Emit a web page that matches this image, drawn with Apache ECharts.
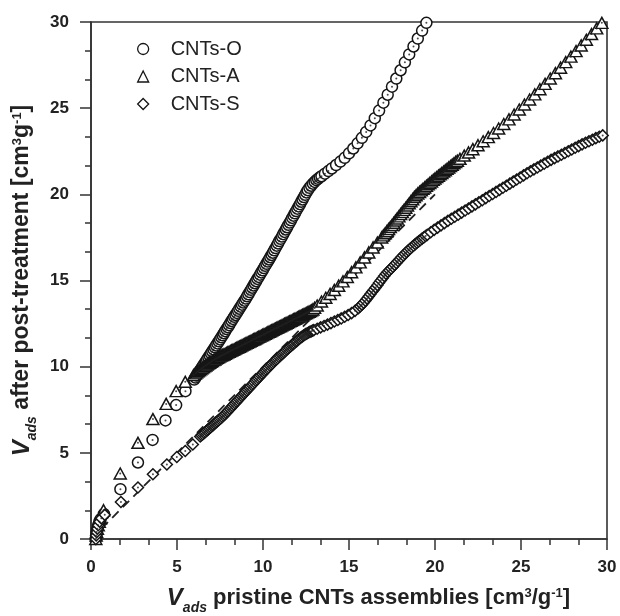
<!DOCTYPE html>
<html>
<head>
<meta charset="utf-8">
<script src="https://cdn.jsdelivr.net/npm/echarts@6/dist/echarts.min.js"></script>
<style>
  html, body { margin: 0; padding: 0; background: #fff; }
  #chart { width: 620px; height: 616px; }
</style>
</head>
<body>
<div id="chart"></div>
<script>
// ---- data ----
const seriesNames = ['CNTs-O', 'CNTs-A', 'CNTs-S'];

const cntsO = [
  [0.28,0],[0.3,0.2],[0.33,0.4],[0.37,0.6],[0.42,0.8],[0.48,1.0],[0.56,1.15],[0.75,1.45],
  [1.71,2.89],[2.73,4.44],[3.58,5.75],[4.33,6.88],[4.95,7.77],[5.49,8.58],[6.0,9.25],
  [6.075,9.37],[6.15,9.49],[6.225,9.6],[6.3,9.72],[6.375,9.84],[6.45,9.95],[6.525,10.07],[6.6,10.19],
  [6.675,10.3],[6.75,10.42],[6.825,10.53],[6.9,10.65],[6.975,10.77],[7.05,10.88],[7.125,11.0],
  [7.2,11.12],[7.275,11.23],[7.35,11.35],[7.425,11.47],[7.5,11.58],[7.575,11.7],[7.65,11.82],
  [7.725,11.94],[7.8,12.06],[7.875,12.18],[7.95,12.29],[8.025,12.41],[8.1,12.53],[8.175,12.65],
  [8.25,12.77],[8.325,12.89],[8.4,13.0],[8.475,13.12],[8.55,13.24],[8.625,13.36],[8.7,13.48],
  [8.775,13.6],[8.85,13.72],[8.925,13.83],[9.0,13.95],[9.075,14.08],[9.15,14.2],[9.225,14.33],
  [9.3,14.46],[9.375,14.58],[9.45,14.71],[9.525,14.84],[9.6,14.96],[9.675,15.09],[9.75,15.21],
  [9.825,15.34],[9.9,15.47],[9.975,15.59],[10.05,15.72],[10.125,15.85],[10.2,15.97],[10.275,16.1],
  [10.35,16.22],[10.425,16.35],[10.5,16.48],[10.575,16.61],[10.65,16.75],[10.725,16.88],[10.8,17.02],
  [10.875,17.15],[10.95,17.29],[11.025,17.42],[11.1,17.55],[11.175,17.69],[11.25,17.82],[11.325,17.96],
  [11.4,18.09],[11.475,18.23],[11.55,18.36],[11.625,18.49],[11.7,18.63],[11.775,18.76],[11.85,18.9],
  [11.925,19.03],[12.0,19.17],[12.075,19.3],[12.15,19.43],[12.225,19.57],[12.3,19.7],[12.375,19.84],
  [12.45,19.97],[12.525,20.11],[12.6,20.24],
  [12.7,20.38],[12.8,20.5],[12.9,20.62],[13.0,20.72],[13.1,20.82],[13.2,20.9],[13.3,20.98],[13.4,21.05],
  [13.6,21.2],[13.8,21.35],[14.0,21.5],
  [14.25,21.7],[14.5,21.9],[14.75,22.12],[15.0,22.38],[15.25,22.66],[15.5,22.96],[15.75,23.28],
  [16.0,23.62],[16.25,24.0],[16.5,24.42],[16.75,24.86],[17.0,25.32],[17.25,25.78],[17.5,26.25],
  [17.75,26.72],[18.0,27.2],[18.25,27.66],[18.5,28.12],[18.75,28.58],[19.0,29.04],[19.25,29.5],[19.5,29.95]
];

const cntsA = [
  [0.28,0],[0.3,0.2],[0.33,0.4],[0.37,0.6],[0.42,0.8],[0.48,1.0],[0.55,1.2],[0.73,1.67],
  [1.7,3.8],[2.73,5.58],[3.6,6.96],[4.37,7.84],[4.95,8.58],[5.48,9.12],[5.96,9.51],
  [6.075,9.61],[6.15,9.67],[6.225,9.73],[6.3,9.79],[6.375,9.85],[6.45,9.91],[6.525,9.96],[6.6,10.02],
  [6.675,10.07],[6.75,10.13],[6.825,10.18],[6.9,10.23],[6.975,10.28],[7.05,10.33],[7.125,10.38],
  [7.2,10.42],[7.275,10.47],[7.35,10.51],[7.425,10.56],[7.5,10.6],[7.575,10.64],[7.65,10.68],
  [7.725,10.71],[7.8,10.75],[7.875,10.79],[7.95,10.83],[8.025,10.86],[8.1,10.9],[8.175,10.94],
  [8.25,10.98],[8.325,11.01],[8.4,11.05],[8.475,11.09],[8.55,11.13],[8.625,11.16],[8.7,11.2],
  [8.775,11.24],[8.85,11.28],[8.925,11.31],[9.0,11.35],[9.075,11.39],[9.15,11.43],[9.225,11.46],
  [9.3,11.5],[9.375,11.54],[9.45,11.58],[9.525,11.61],[9.6,11.65],[9.675,11.69],[9.75,11.73],
  [9.825,11.76],[9.9,11.8],[9.975,11.84],[10.05,11.88],[10.125,11.91],[10.2,11.95],[10.275,11.99],
  [10.35,12.03],[10.425,12.06],[10.5,12.1],[10.575,12.14],[10.65,12.18],[10.725,12.21],[10.8,12.25],
  [10.875,12.29],[10.95,12.33],[11.025,12.36],[11.1,12.4],[11.175,12.44],[11.25,12.48],[11.325,12.51],
  [11.4,12.55],[11.475,12.59],[11.55,12.63],[11.625,12.66],[11.7,12.7],[11.775,12.74],[11.85,12.78],
  [11.925,12.81],[12.0,12.85],[12.075,12.89],[12.15,12.93],[12.225,12.96],[12.3,13.0],[12.375,13.04],
  [12.45,13.08],[12.525,13.11],[12.6,13.15],[12.675,13.19],[12.75,13.23],[12.825,13.27],[12.9,13.32],
  [13.0,13.41],[13.15,13.55],[13.4,13.78],[13.65,14.0],[13.9,14.22],[14.15,14.45],[14.4,14.7],[14.65,14.95],
  [14.9,15.2],[15.15,15.48],[15.4,15.76],[15.65,16.05],[15.9,16.34],[16.15,16.63],[16.4,16.92],
  [16.65,17.2],[16.9,17.5],
  [17.0,17.62],[17.1,17.74],[17.2,17.86],[17.3,17.98],[17.4,18.1],[17.5,18.22],[17.6,18.35],[17.7,18.48],
  [17.8,18.6],[17.9,18.72],[18.0,18.85],[18.1,18.98],[18.2,19.1],[18.3,19.22],[18.4,19.35],[18.5,19.48],
  [18.6,19.6],[18.7,19.72],[18.8,19.85],[18.9,19.95],[19.0,20.05],[19.1,20.14],[19.2,20.23],[19.3,20.32],
  [19.4,20.4],[19.5,20.49],[19.6,20.58],[19.7,20.66],[19.8,20.75],[19.9,20.84],[20.0,20.92],[20.1,21.0],
  [20.2,21.08],[20.3,21.16],[20.4,21.24],[20.5,21.32],[20.6,21.4],[20.7,21.48],[20.8,21.56],[20.9,21.64],
  [21.0,21.72],[21.1,21.8],[21.2,21.88],[21.3,21.95],[21.45,22.06],[21.7,22.25],
  [21.95,22.43],[22.2,22.62],[22.5,22.85],[22.8,23.08],[23.1,23.32],[23.4,23.56],
  [23.7,23.82],[24.0,24.08],[24.3,24.35],[24.6,24.63],[24.9,24.92],[25.2,25.21],[25.5,25.5],
  [25.8,25.8],[26.1,26.1],[26.4,26.41],[26.7,26.72],[27.0,27.03],[27.3,27.35],[27.6,27.67],
  [27.9,27.99],[28.2,28.31],[28.5,28.64],[28.8,28.97],[29.1,29.3],[29.4,29.63],[29.7,29.95]
];

const cntsS = [
  [0.28,0],[0.3,0.2],[0.33,0.4],[0.37,0.6],[0.42,0.8],[0.5,1.0],[0.6,1.2],[0.8,1.4],
  [1.74,2.15],[2.73,2.99],[3.6,3.76],[4.41,4.32],[4.99,4.76],[5.48,5.11],[5.92,5.48],[6.35,5.95],
  [6.425,6.02],[6.5,6.08],[6.575,6.15],[6.65,6.21],[6.725,6.28],[6.8,6.35],[6.875,6.41],[6.95,6.48],
  [7.025,6.55],[7.1,6.61],[7.175,6.68],[7.25,6.75],[7.325,6.81],[7.4,6.88],[7.475,6.95],[7.55,7.01],
  [7.625,7.08],[7.7,7.15],[7.775,7.23],[7.85,7.31],[7.925,7.39],[8.0,7.47],[8.075,7.55],[8.15,7.63],
  [8.225,7.71],[8.3,7.8],[8.375,7.88],[8.45,7.96],[8.525,8.04],[8.6,8.12],[8.675,8.2],[8.75,8.29],
  [8.825,8.37],[8.9,8.45],[8.975,8.53],[9.05,8.61],[9.125,8.69],[9.2,8.77],[9.275,8.85],[9.35,8.93],
  [9.425,9.01],[9.5,9.1],[9.575,9.18],[9.65,9.26],[9.725,9.34],[9.8,9.42],[9.875,9.5],[9.95,9.58],
  [10.025,9.66],[10.1,9.74],[10.175,9.82],[10.25,9.89],[10.325,9.97],[10.4,10.05],[10.475,10.12],
  [10.55,10.2],[10.625,10.27],[10.7,10.35],[10.775,10.42],[10.85,10.49],[10.925,10.56],[11.0,10.63],
  [11.075,10.7],[11.15,10.77],[11.225,10.84],[11.3,10.91],[11.375,10.98],[11.45,11.05],[11.525,11.11],
  [11.6,11.18],[11.675,11.25],[11.75,11.31],[11.825,11.37],[11.9,11.44],[11.975,11.5],[12.05,11.57],
  [12.125,11.63],[12.2,11.69],[12.275,11.74],[12.35,11.8],[12.425,11.85],[12.5,11.9],[12.575,11.94],
  [12.65,11.98],[12.725,12.02],[12.8,12.05],[12.875,12.09],[12.95,12.12],
  [13.15,12.2],[13.35,12.28],[13.55,12.36],[13.75,12.44],[13.95,12.53],[14.15,12.62],[14.35,12.71],
  [14.55,12.8],[14.75,12.9],[14.95,13.0],[15.15,13.11],[15.35,13.24],
  [15.55,13.4],[15.65,13.5],[15.75,13.6],[15.85,13.71],[15.95,13.83],[16.05,13.95],[16.15,14.08],
  [16.25,14.21],[16.35,14.34],[16.45,14.47],[16.55,14.6],[16.65,14.73],[16.75,14.87],[16.85,15.0],
  [16.95,15.13],[17.05,15.26],[17.15,15.39],[17.25,15.5],[17.35,15.6],[17.45,15.7],[17.55,15.8],
  [17.65,15.91],[17.75,16.02],[17.85,16.13],[17.95,16.24],[18.05,16.35],[18.15,16.45],[18.25,16.55],
  [18.35,16.65],[18.45,16.75],[18.55,16.84],[18.65,16.93],[18.75,17.02],[18.85,17.11],[18.95,17.19],
  [19.05,17.27],[19.15,17.35],[19.25,17.43],[19.35,17.5],[19.45,17.58],[19.55,17.65],
  [19.75,17.8],[19.95,17.94],
  [20.15,18.07],[20.35,18.2],[20.55,18.33],[20.75,18.46],[20.95,18.58],[21.15,18.7],[21.35,18.82],
  [21.55,18.94],[21.75,19.06],[21.95,19.18],[22.15,19.3],[22.35,19.42],[22.55,19.54],[22.75,19.66],
  [22.95,19.78],[23.15,19.9],[23.35,20.02],[23.55,20.14],[23.75,20.26],[23.95,20.38],[24.15,20.5],
  [24.35,20.62],[24.55,20.74],[24.75,20.86],[24.95,20.98],[25.15,21.1],[25.35,21.22],[25.55,21.34],
  [25.75,21.45],[25.95,21.56],[26.15,21.67],[26.35,21.78],[26.55,21.89],[26.75,22.0],[26.95,22.1],
  [27.15,22.2],[27.35,22.3],[27.55,22.4],[27.75,22.5],[27.95,22.6],[28.15,22.7],[28.35,22.8],
  [28.55,22.9],[28.75,22.99],[28.95,23.08],[29.15,23.17],[29.35,23.26],[29.55,23.34],[29.75,23.42]
];

// dashed y = x reference line
const refLine = [[0, 0], [20, 20]];

// axis ranges / ticks
const axisMin = 0, axisMax = 30, axisStep = 5;

// ---- chart ----
const FONT = '"Liberation Sans", Arial, sans-serif';
const INK = '#222';

function titleRich(mainSize) {
  return {
    v:   { fontFamily: FONT, fontSize: 24, fontWeight: 'bold', fontStyle: 'italic', color: INK, lineHeight: 24, verticalAlign: 'bottom', padding: [0,0,5,0] },
    sub: { fontFamily: FONT, fontSize: 14, fontWeight: 'bold', fontStyle: 'italic', color: INK, lineHeight: 14, verticalAlign: 'bottom', padding: [0,0,0,0] },
    t:   { fontFamily: FONT, fontSize: mainSize, fontWeight: 'bold', color: INK, lineHeight: mainSize, verticalAlign: 'bottom', padding: [0,0,6,0] },
    sup: { fontFamily: FONT, fontSize: 13, fontWeight: 'bold', color: INK, lineHeight: 13, verticalAlign: 'bottom', padding: [0,0,15,0] }
  };
}

function axisCommon() {
  return {
    type: 'value', min: axisMin, max: axisMax, interval: axisStep,
    axisLine: { show: true, lineStyle: { color: '#333', width: 1.6 } },
    axisTick: { show: true, inside: false, length: 11, lineStyle: { color: '#333', width: 1.5 } },
    minorTick: { show: true, splitNumber: 3, length: 6, lineStyle: { color: '#333', width: 1.5 } },
    splitLine: { show: false },
    minorSplitLine: { show: false },
    nameLocation: 'middle'
  };
}

const symbolFor = { 'CNTs-O': 'circle', 'CNTs-A': 'triangle', 'CNTs-S': 'diamond' };
const sizeFor = { 'CNTs-O': 11, 'CNTs-A': [12, 11], 'CNTs-S': 11 };
const dataFor = { 'CNTs-O': cntsO, 'CNTs-A': cntsA, 'CNTs-S': cntsS };

const series = [{
  name: 'y=x', type: 'line', data: refLine, symbol: 'none', silent: true, z: 1,
  lineStyle: { color: '#222', width: 1.8, type: [9, 6] }
}];
seriesNames.forEach(function (n, i) {
  series.push({
    name: n, type: 'scatter', data: dataFor[n], symbol: symbolFor[n], symbolSize: sizeFor[n],
    z: 2 + i,
    itemStyle: { color: '#fff', borderColor: '#151515', borderWidth: 1.5, opacity: 1 }
  });
});
seriesNames.forEach(function (n, i) {
  series.push({
    name: n + ' centre', type: 'scatter', data: dataFor[n], symbol: 'circle', symbolSize: 2,
    silent: true, z: 2 + i,
    itemStyle: { color: '#222' }
  });
});

const chart = echarts.init(document.getElementById('chart'), null, { renderer: 'canvas' });
chart.setOption({
  animation: false,
  backgroundColor: '#fff',
  grid: { left: 91, right: 13, top: 22, bottom: 77, outerBoundsMode: 'none', containLabel: false,
          show: true, borderColor: '#333', borderWidth: 1.6, backgroundColor: 'transparent' },
  legend: {
    data: seriesNames.map(function (n) { return { name: n, icon: symbolFor[n] }; }),
    orient: 'vertical', left: 132, top: 34,
    itemWidth: 11, itemHeight: 11, itemGap: 7.5,
    itemStyle: { color: '#fff', borderColor: '#151515', borderWidth: 1.3 },
    textStyle: { fontFamily: FONT, fontSize: 20, color: INK, padding: [0, 0, 0, 17] }
  },
  xAxis: Object.assign(axisCommon(), {
    position: 'bottom',
    name: '{v|V}{sub|ads}{t| pristine CNTs assemblies [cm}{sup|3}{t|/g}{sup|-1}{t|]}',
    nameGap: 52,
    nameTextStyle: { rich: titleRich(22), padding: [0, 0, 0, 39] },
    axisLabel: { fontFamily: FONT, fontSize: 17, fontWeight: 'bold', color: INK, margin: 20 }
  }),
  yAxis: Object.assign(axisCommon(), {
    position: 'left',
    name: '{v|V}{sub|ads}{t| after post-treatment [cm}{sup|3}{t|g}{sup|-1}{t|]}',
    nameGap: 48,
    nameTextStyle: { rich: titleRich(23) },
    axisLabel: { fontFamily: FONT, fontSize: 17, fontWeight: 'bold', color: INK, margin: 22 }
  }),
  series: series
});
</script>
</body>
</html>
